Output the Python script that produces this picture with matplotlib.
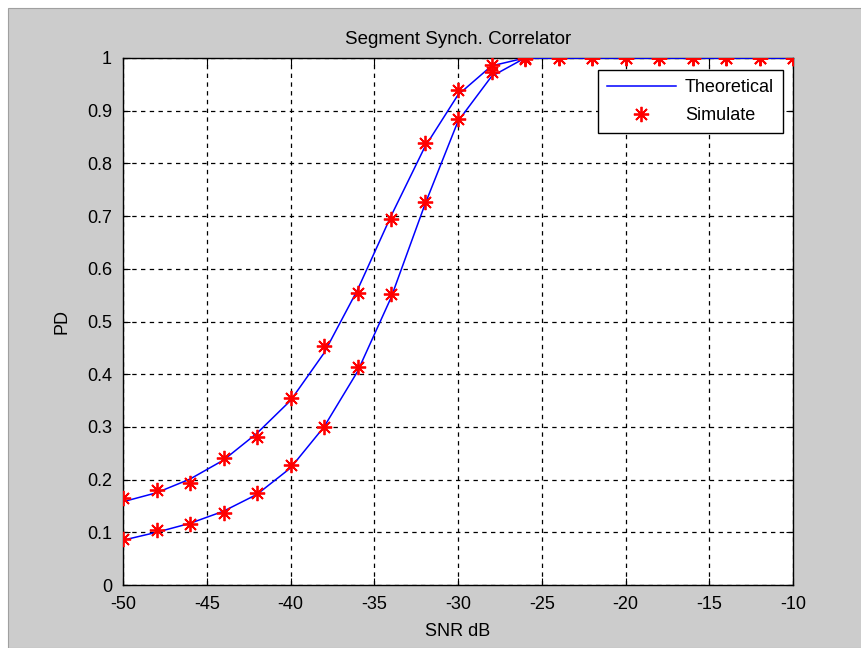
import matplotlib
matplotlib.use("Agg")
import matplotlib.pyplot as plt
from matplotlib.patches import Rectangle

plt.rcParams['font.family'] = ['Liberation Sans', 'DejaVu Sans']
plt.rcParams['axes.unicode_minus'] = False

snr = [-50, -48, -46, -44, -42, -40, -38, -36, -34, -32, -30, -28, -26,
       -24, -22, -20, -18, -16, -14, -12, -10]

theo_upper = [0.158, 0.175, 0.201, 0.237, 0.288, 0.350, 0.440, 0.560, 0.700,
              0.830, 0.930, 0.985, 1.0, 1.0, 1.0, 1.0, 1.0, 1.0, 1.0, 1.0, 1.0]
theo_lower = [0.085, 0.100, 0.117, 0.140, 0.172, 0.222, 0.300, 0.405, 0.545,
              0.720, 0.880, 0.965, 1.0, 1.0, 1.0, 1.0, 1.0, 1.0, 1.0, 1.0, 1.0]
sim_upper = [0.165, 0.180, 0.194, 0.241, 0.281, 0.355, 0.454, 0.554, 0.694,
             0.839, 0.939, 0.987, 0.998, 1.0, 1.0, 1.0, 1.0, 1.0, 1.0, 1.0, 1.0]
sim_lower = [0.087, 0.104, 0.116, 0.137, 0.175, 0.228, 0.300, 0.414, 0.552,
             0.727, 0.884, 0.973, 1.0, 1.0, 1.0, 1.0, 1.0, 1.0, 1.0, 1.0, 1.0]

xticks = [-50, -45, -40, -35, -30, -25, -20, -15, -10]
yticks = [0, 0.1, 0.2, 0.3, 0.4, 0.5, 0.6, 0.7, 0.8, 0.9, 1]
ytick_labels = ['0', '0.1', '0.2', '0.3', '0.4', '0.5', '0.6', '0.7', '0.8', '0.9', '1']

W, H = 862, 648
FS = 13
fig = plt.figure(figsize=(W / 100, H / 100), dpi=100, facecolor='white')
bg = Rectangle((8 / W, 0), 1 - 8 / W, 1 - 8 / H, transform=fig.transFigure,
               facecolor='#cccccc', edgecolor='#a0a0a0', lw=0.8, zorder=-10)
fig.add_artist(bg)

ax = fig.add_axes([123 / W, 1 - 585 / H, (793 - 123) / W, (585 - 58) / H])
ax.set_zorder(1)
ax.set_facecolor('white')

star = (8, 2, 0)
ax.plot(snr, theo_upper, color='#0000ff', lw=1.1, label='Theoretical', zorder=3)
ax.plot(snr, sim_upper, linestyle='none', marker=star, color='#ff0000', markersize=11,
        markeredgewidth=1.3, label='Simulate', zorder=4)
ax.plot(snr, theo_lower, color='#0000ff', lw=1.1, zorder=3)
ax.plot(snr, sim_lower, linestyle='none', marker=star, color='#ff0000', markersize=11,
        markeredgewidth=1.3, zorder=4)

ax.set_xlim(-50, -10)
ax.set_ylim(0, 1)
ax.set_xticks(xticks)
ax.set_yticks(yticks)
ax.set_yticklabels(ytick_labels)
ax.grid(True, color='black', linestyle=(0, (3.5, 3.5)), lw=0.9)
ax.set_axisbelow(True)
ax.tick_params(direction='in', top=True, right=True, length=5, labelsize=FS,
               colors='black')
ax.tick_params(axis='x', pad=8)
ax.tick_params(axis='y', pad=8)
for s in ax.spines.values():
    s.set_linewidth(1.0)

ax.set_title('Segment Synch. Correlator', fontsize=FS + 0.5, pad=10)
ax.set_xlabel('SNR dB', fontsize=FS, labelpad=7)
ax.set_ylabel('PD', fontsize=FS, labelpad=12)

leg = ax.legend(loc='upper right', bbox_to_anchor=(0.985, 0.977), borderaxespad=0,
                fontsize=FS, frameon=True, fancybox=False, edgecolor='black',
                framealpha=1, handlelength=3.8, handletextpad=0.5, borderpad=0.5,
                labelspacing=0.6)
leg.get_frame().set_linewidth(1.0)

fig.savefig('out.png', dpi=100, facecolor=fig.get_facecolor())
